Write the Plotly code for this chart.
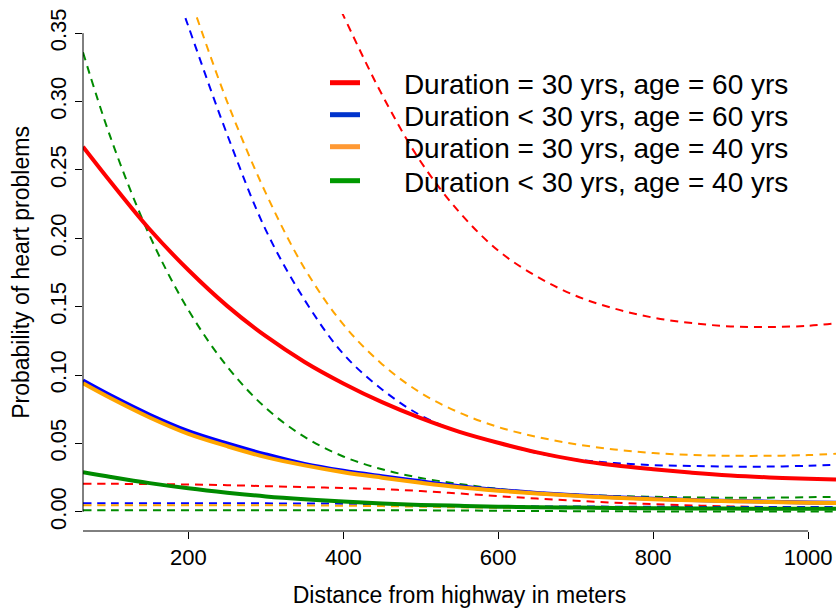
import plotly.graph_objects as go

# ---- data ----
x_grid = [64, 100, 150, 200, 250, 300, 350, 400, 450, 500, 550, 600, 650, 700, 750, 800, 850, 900, 950, 1000, 1036]

red_fit = [0.267, 0.241, 0.2066, 0.1768, 0.1506, 0.1284, 0.1096, 0.0939, 0.0802, 0.0685, 0.0585, 0.0505, 0.0435, 0.0380, 0.0340, 0.0311, 0.0286, 0.0266, 0.0252, 0.0242, 0.0236]
red_lo = [0.0205, 0.0205, 0.0203, 0.0200, 0.0195, 0.0188, 0.0181, 0.0174, 0.0166, 0.0152, 0.0134, 0.0115, 0.0097, 0.0081, 0.0067, 0.0056, 0.0047, 0.0040, 0.0035, 0.0031, 0.0030]
red_hi_x = [390, 400, 450, 500, 550, 600, 650, 700, 750, 800, 850, 900, 950, 1000, 1036]
red_hi = [0.375, 0.363, 0.305, 0.256, 0.219, 0.191, 0.172, 0.158, 0.1486, 0.142, 0.138, 0.1356, 0.1352, 0.136, 0.138]

blue_fit = [0.096, 0.085, 0.071, 0.059, 0.050, 0.042, 0.035, 0.030, 0.026, 0.0223, 0.0188, 0.0160, 0.0138, 0.0121, 0.0106, 0.0095, 0.0087, 0.0080, 0.0074, 0.0069, 0.0066]
blue_lo = [0.0062, 0.0062, 0.0062, 0.0062, 0.0062, 0.0062, 0.0061, 0.0060, 0.0056, 0.0050, 0.0045, 0.0042, 0.0040, 0.0039, 0.0038, 0.0037, 0.0036, 0.0036, 0.0035, 0.0035, 0.0035]
blue_hi_x = [190, 200, 250, 300, 350, 400, 450, 500, 550, 600, 650, 700, 750, 800, 850, 900, 950, 1000, 1036]
blue_hi = [0.371, 0.355, 0.276, 0.206, 0.155, 0.1155, 0.0895, 0.0705, 0.0585, 0.0505, 0.0430, 0.0383, 0.0357, 0.0342, 0.0335, 0.0331, 0.0331, 0.0337, 0.0345]

orange_fit = [0.094, 0.083, 0.069, 0.057, 0.048, 0.040, 0.034, 0.029, 0.025, 0.0213, 0.0180, 0.0155, 0.0134, 0.0117, 0.0103, 0.0093, 0.0085, 0.0078, 0.0072, 0.0067, 0.0065]
orange_lo = [0.0048, 0.0048, 0.0048, 0.0048, 0.0048, 0.0048, 0.0047, 0.0045, 0.0042, 0.0038, 0.0033, 0.0030, 0.0029, 0.0028, 0.0027, 0.0027, 0.0026, 0.0026, 0.0025, 0.0025, 0.0025]
orange_hi_x = [205, 210, 250, 300, 350, 400, 450, 500, 550, 600, 650, 700, 750, 800, 850, 900, 950, 1000, 1036]
orange_hi = [0.371, 0.363, 0.300, 0.233, 0.178, 0.137, 0.108, 0.087, 0.0725, 0.0620, 0.0548, 0.0495, 0.0456, 0.0430, 0.0416, 0.0410, 0.0410, 0.0415, 0.0425]

green_fit = [0.029, 0.0255, 0.0210, 0.0172, 0.0140, 0.0113, 0.0092, 0.0075, 0.0061, 0.0051, 0.0044, 0.0038, 0.0034, 0.0031, 0.0028, 0.0026, 0.0025, 0.0024, 0.0023, 0.0022, 0.0022]
green_lo = [0.0012, 0.0012, 0.0012, 0.0012, 0.0012, 0.0012, 0.0012, 0.0012, 0.0012, 0.0011, 0.0010, 0.0008, 0.0006, 0.0005, 0.0004, 0.0003, 0.0003, 0.0002, 0.0002, 0.0002, 0.0002]
green_hi = [0.336, 0.273, 0.202, 0.1476, 0.1063, 0.0759, 0.0548, 0.0405, 0.0311, 0.0248, 0.0204, 0.0168, 0.0143, 0.0126, 0.0116, 0.0110, 0.0106, 0.0103, 0.0104, 0.0107, 0.0110]

labels = [
    "Duration = 30 yrs, age = 60 yrs",
    "Duration < 30 yrs, age = 60 yrs",
    "Duration = 30 yrs, age = 40 yrs",
    "Duration < 30 yrs, age = 40 yrs",
]
colors = ["#FF0000", "#0000FF", "#FFA500", "#008B00"]
legend_colors = ["#FF0000", "#0033CC", "#FF9933", "#009900"]

y_ticks = [0.00, 0.05, 0.10, 0.15, 0.20, 0.25, 0.30, 0.35]
x_ticks = [200, 400, 600, 800, 1000]

FONT = "Liberation Sans, Arial, Helvetica, sans-serif"

fig = go.Figure()

series = [
    (red_fit, red_lo, red_hi_x, red_hi),
    (blue_fit, blue_lo, blue_hi_x, blue_hi),
    (orange_fit, orange_lo, orange_hi_x, orange_hi),
    (green_fit, green_lo, x_grid, green_hi),
]

dash = "8px,6px"
for i, (fit, lo, hx, hi) in enumerate(series):
    fig.add_trace(go.Scatter(x=x_grid, y=lo, mode="lines", showlegend=False, hoverinfo="skip",
                             line=dict(color=colors[i], width=2, dash=dash, shape="spline")))
    fig.add_trace(go.Scatter(x=hx, y=hi, mode="lines", showlegend=False, hoverinfo="skip",
                             line=dict(color=colors[i], width=2, dash=dash, shape="spline")))
for i, (fit, lo, hx, hi) in enumerate(series):
    fig.add_trace(go.Scatter(x=x_grid, y=fit, mode="lines", showlegend=False,
                             line=dict(color=colors[i], width=4, shape="spline")))

# legend entries: one legend per row for exact placement
legend_names = ["legend", "legend2", "legend3", "legend4"]
row_px = [83, 115, 147, 181]
pad = "\u00a0" * 5
legend_layout = {}
for i, lab in enumerate(labels):
    fig.add_trace(go.Scatter(x=[None], y=[None], mode="lines", name=pad + lab,
                             legend=legend_names[i], showlegend=True,
                             line=dict(color=legend_colors[i], width=5)))
    legend_layout[legend_names[i]] = dict(
        x=(325 - 83) / 753, y=(531 - row_px[i]) / 517, xanchor="left", yanchor="middle",
        font=dict(size=28, family=FONT, color="black"),
        bgcolor="rgba(0,0,0,0)", borderwidth=0)

fig.add_shape(type="line", xref="x", yref="paper", x0=64, x1=1000, y0=0, y1=0,
              line=dict(color="black", width=1))
fig.add_shape(type="line", xref="paper", yref="y", x0=0, x1=0, y0=0, y1=0.35,
              line=dict(color="black", width=1))

fig.update_layout(
    width=836, height=612,
    margin=dict(l=83, r=0, t=14, b=81),
    paper_bgcolor="white", plot_bgcolor="white",
    font=dict(family=FONT, color="black", size=22),
    showlegend=True,
    xaxis=dict(range=[64, 1036], showgrid=False, zeroline=False, showline=False,
               tickmode="array", tickvals=x_ticks, ticktext=[str(v) for v in x_ticks],
               ticks="outside", ticklen=7, tickwidth=1, tickcolor="black",
               tickfont=dict(size=22, family=FONT),
               title=dict(text="Distance from highway in meters", font=dict(size=23, family=FONT), standoff=17)),
    yaxis=dict(range=[-0.014, 0.364], showgrid=False, zeroline=False, showline=False,
               tickmode="array", tickvals=y_ticks, ticktext=[f"{v:.2f}" for v in y_ticks],
               ticks="outside", ticklen=7, tickwidth=1, tickcolor="black", tickangle=-90,
               tickfont=dict(size=22, family=FONT),
               title=dict(text="Probability of heart problems", font=dict(size=23, family=FONT), standoff=10)),
    **legend_layout,
)

fig.write_html("out.html")
